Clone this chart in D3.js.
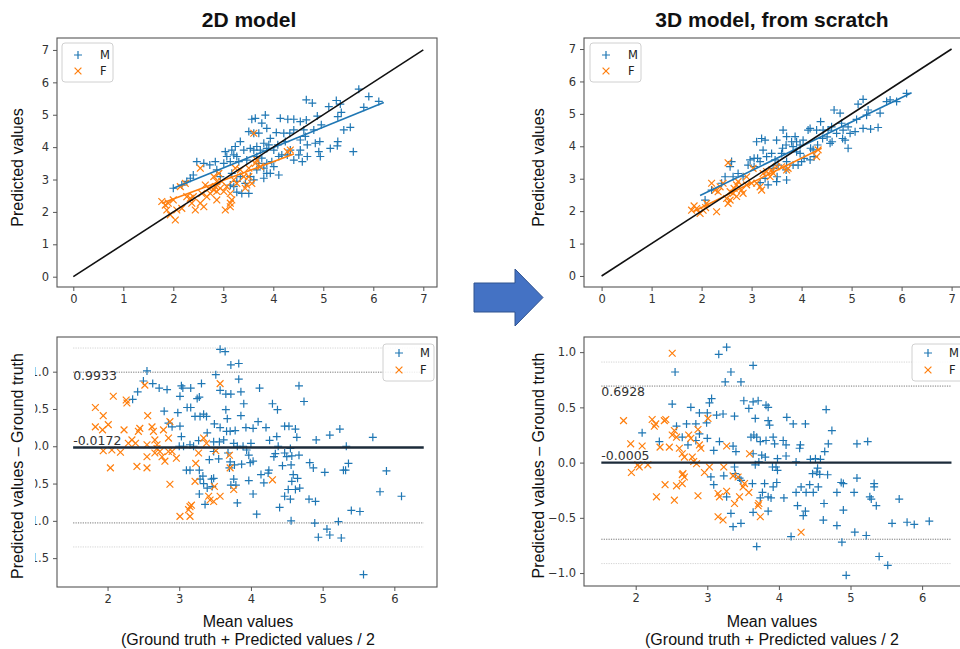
<!DOCTYPE html>
<html>
<head>
<meta charset="utf-8">
<script src="https://cdn.jsdelivr.net/npm/d3@7"></script>
<style>
  html, body { margin: 0; padding: 0; background: #fff; }
  svg { display: block; }
</style>
</head>
<body>
<svg id="chart" width="960" height="649"></svg>
<script>
// ---- Predicted vs ground truth, 2D model: [ground truth, predicted] ----
const scatter2dM = [
  [4.66,5.46],[4.78,5.36],[5.26,5.44],[5.71,5.79],[5.91,5.56],[6.11,5.41],[5.81,5.23],[5.11,5.25],
  [5.34,5.33],[5.36,5.07],[5.29,4.94],[4.88,4.96],[4.96,4.69],[5.41,4.53],[5.54,4.61],[5.60,3.86],
  [5.28,4.04],[5.29,4.17],[5.14,3.96],[4.94,3.71],[4.84,4.12],[4.93,4.17],[4.91,3.86],[4.81,4.53],
  [4.66,4.84],[4.54,4.79],[4.41,4.86],[4.29,4.86],[4.14,4.89],[4.41,4.53],[4.33,4.43],[4.61,4.53],
  [4.54,4.22],[4.64,4.33],[4.68,4.07],[4.54,3.91],[4.58,3.55],[4.41,3.60],[4.51,3.76],[4.21,4.43],
  [4.06,4.45],[4.24,4.17],[4.09,4.07],[4.01,3.91],[4.11,3.71],[4.17,3.76],[4.11,3.14],[4.01,3.40],
  [3.84,4.99],[3.77,4.74],[3.87,4.58],[3.64,4.89],[3.57,4.86],[3.51,4.48],[3.61,4.43],[3.71,4.43],
  [3.94,4.27],[3.91,4.07],[3.81,4.12],[3.87,3.96],[3.74,3.91],[3.67,4.02],[3.61,3.91],[3.67,3.71],
  [3.77,3.66],[3.54,3.96],[3.34,4.17],[3.41,3.91],[3.24,4.02],[3.17,3.91],[3.04,3.86],[3.07,3.71],
  [3.21,3.76],[3.14,3.55],[3.27,3.71],[3.47,3.60],[3.31,3.55],[3.01,3.50],[2.84,3.55],[2.73,3.45],
  [2.61,3.50],[2.47,3.55],[2.40,3.14],[2.34,3.04],[2.87,3.30],[2.94,3.09],[3.17,3.19],[3.34,3.09],
  [3.27,2.94],[3.44,2.88],[3.21,2.78],[3.14,2.83],[3.27,2.61],[3.37,2.57],[3.51,2.57],[3.54,3.09],
  [3.61,2.99],[3.67,3.30],[3.81,3.04],[3.87,3.19],[3.94,3.19],[3.97,3.55],[3.87,3.50],[3.81,3.35],
  [3.71,3.50],[4.28,3.76],[4.68,3.71],[4.34,3.91],[2.00,2.73],[2.17,2.83],[2.27,2.94]
];
const scatter2dF = [
  [1.77,2.32],[1.84,2.21],[1.87,2.06],[1.90,2.27],[2.00,2.37],[1.94,1.91],[2.04,1.75],[2.07,2.06],
  [2.17,2.11],[2.14,2.78],[2.24,2.88],[2.27,2.47],[2.34,2.42],[2.40,2.47],[2.44,2.06],[2.54,3.35],
  [2.57,2.57],[2.54,2.27],[2.61,2.16],[2.64,2.83],[2.71,2.73],[2.74,2.57],[2.81,2.68],[2.84,2.78],
  [2.87,2.63],[2.87,2.37],[2.94,2.73],[2.97,2.94],[2.91,3.19],[2.81,3.09],[3.01,2.63],[3.07,2.78],
  [3.04,2.06],[3.14,2.27],[3.17,2.37],[3.14,2.16],[3.21,2.99],[3.24,3.35],[3.34,3.30],[3.41,3.09],
  [3.47,2.83],[3.44,2.73],[3.51,3.09],[3.57,2.88],[3.61,4.43],[3.64,3.50],[3.67,3.60],[3.74,3.40],
  [4.28,3.86],[4.34,3.91],[3.51,3.35],[3.27,2.88],[2.87,2.94],[3.14,2.57],[2.37,2.27],[2.67,2.47]
];
const fit2dM = [[2.00,2.73],[6.21,5.38]];
const fit2dF = [[1.77,2.27],[4.41,3.79]];

// ---- Predicted vs ground truth, 3D model from scratch ----
const scatter3dM = [
  [6.10,5.63],[5.90,5.38],[5.77,5.43],[5.70,5.38],[5.23,5.45],[5.13,5.30],[5.33,5.12],[5.57,5.02],
  [5.30,4.96],[5.10,4.83],[5.23,4.55],[5.38,4.53],[5.53,4.58],[5.07,4.45],[4.93,4.60],[4.93,3.94],
  [4.80,4.71],[4.77,5.02],[4.65,5.12],[4.60,4.60],[4.53,4.50],[4.82,4.24],[4.87,4.19],[4.61,4.14],
  [4.51,4.29],[4.43,4.50],[4.38,4.76],[4.30,4.50],[4.42,4.24],[4.32,4.04],[4.25,3.68],[4.18,3.94],
  [4.17,4.55],[4.13,4.50],[4.03,4.19],[3.97,4.04],[3.90,4.14],[3.87,4.30],[3.83,3.99],[3.97,3.78],
  [3.90,3.83],[3.80,4.14],[3.70,4.30],[3.63,4.50],[3.69,4.04],[3.62,3.94],[3.60,3.78],[3.50,4.19],
  [3.40,3.78],[3.47,3.58],[3.27,4.19],[3.20,4.24],[3.10,4.14],[3.23,3.88],[3.12,3.63],[3.05,3.63],
  [3.17,3.53],[3.30,3.68],[2.97,3.58],[2.93,3.42],[3.05,3.37],[2.83,3.06],[2.73,3.16],[2.57,3.37],
  [2.60,3.53],[2.63,3.06],[2.47,3.06],[2.40,2.86],[2.20,2.65],[2.07,2.34],[3.17,2.88],[3.27,3.01],
  [3.33,2.81],[3.50,2.91],[3.51,3.06],[3.70,2.96],[3.69,3.27],[3.83,3.42],[3.53,3.42],[3.43,3.32],
  [3.70,3.53],[4.05,3.63],[3.93,3.42],[4.00,3.53],[4.17,3.58],[4.23,3.89],[4.57,4.09],[4.70,4.40],
  [4.83,4.50],[4.97,4.40]
];
const scatter3dF = [
  [1.85,2.16],[1.80,2.03],[1.90,2.08],[1.97,1.93],[2.03,2.03],[2.08,2.11],[2.10,2.24],[2.30,1.98],
  [2.20,2.86],[2.27,2.65],[2.33,2.60],[2.43,2.86],[2.53,3.49],[2.50,2.39],[2.57,2.34],[2.53,2.24],
  [2.63,2.55],[2.65,2.70],[2.70,2.45],[2.73,2.91],[2.80,2.65],[2.83,2.55],[2.90,2.81],[3.00,2.86],
  [2.90,3.06],[3.03,3.32],[3.10,2.86],[3.17,2.75],[3.20,2.65],[3.23,3.16],[3.30,3.22],[3.37,3.06],
  [3.40,3.27],[3.43,3.17],[3.50,3.37],[3.60,3.37],[3.70,3.27],[3.73,3.32],[4.30,3.68],[4.33,3.89],
  [2.57,2.60],[2.70,2.81],[2.37,2.75]
];
const fit3dM = [[1.97,2.48],[6.20,5.65]];
const fit3dF = [[1.83,1.98],[4.40,3.94]];

// ---- Bland-Altman, 2D model: [mean, difference] ----
const ba2dM = [
  [3.57,1.30],[3.64,1.27],[3.72,1.09],[3.83,1.11],[2.55,1.01],[3.51,0.96],[3.83,0.90],[2.50,0.875],
  [2.63,0.84],[2.72,0.78],[2.83,0.76],[2.42,0.73],[3.03,0.81],[3.05,0.78],[3.16,0.78],[3.31,0.84],
  [3.57,0.75],[3.65,0.70],[3.72,0.70],[3.86,0.73],[4.12,0.78],[4.67,0.81],[2.35,0.63],[3.01,0.67],
  [3.25,0.64],[3.28,0.66],[3.90,0.57],[4.30,0.57],[4.37,0.49],[4.74,0.60],[2.79,0.47],[2.98,0.45],
  [3.11,0.52],[3.16,0.52],[3.22,0.40],[3.29,0.40],[3.34,0.43],[3.38,0.40],[3.65,0.49],[3.67,0.37],
  [3.86,0.41],[3.49,0.30],[3.57,0.25],[3.66,0.20],[3.71,0.20],[3.78,0.21],[3.93,0.25],[4.03,0.24],
  [4.10,0.33],[4.21,0.25],[4.47,0.27],[4.53,0.27],[4.62,0.23],[4.64,0.12],[4.36,0.13],[4.26,0.08],
  [4.38,0.00],[2.85,0.31],[2.90,0.26],[3.01,0.27],[3.03,0.13],[3.00,0.00],[3.06,0.00],[3.15,0.02],
  [3.20,0.00],[3.27,0.076],[3.39,0.18],[3.48,0.06],[3.56,0.06],[3.62,0.085],[3.76,0.04],[3.81,0.00],
  [3.89,0.00],[3.94,-0.05],[4.00,0.04],[3.97,-0.12],[4.03,-0.20],[3.99,-0.22],[3.87,-0.24],[3.77,-0.25],
  [3.71,-0.21],[3.70,-0.29],[3.76,-0.44],[3.79,-0.52],[3.72,-0.52],[3.97,-0.46],[3.81,-0.76],[4.08,-0.91],
  [4.03,-0.64],[4.14,-0.38],[4.18,-0.49],[4.24,-0.36],[4.25,-0.32],[4.32,-0.14],[4.34,-0.10],[4.44,-0.26],
  [4.47,-0.09],[4.50,-0.14],[4.55,-0.03],[4.57,-0.13],[4.56,-0.25],[4.67,-0.12],[4.59,-0.38],[4.57,-0.47],
  [4.65,-0.43],[4.52,-0.58],[4.47,-0.67],[4.55,-0.71],[4.40,-0.82],[4.62,-0.58],[4.68,-0.56],[4.82,-0.22],
  [4.87,-0.29],[5.03,-0.35],[4.91,0.085],[5.10,0.15],[5.24,0.23],[5.33,0.00],[5.36,-0.23],[5.29,-0.32],
  [5.32,-0.32],[5.70,0.12],[5.89,-0.33],[5.80,-0.61],[6.10,-0.67],[4.81,-0.71],[4.90,-0.74],[4.56,-1.00],
  [4.89,-1.03],[4.94,-1.22],[5.06,-1.11],[5.10,-1.19],[5.22,-1.01],[5.26,-1.23],[5.40,-0.86],[5.52,-0.875],
  [5.57,-1.72],[3.15,-0.32],[3.10,-0.32],[3.28,-0.32],[3.33,-0.40],[3.28,-0.64],[3.36,-0.78],[3.48,-0.43],
  [3.45,-0.44],[3.39,-0.56],[3.34,-0.50],[3.29,-0.44],[3.42,-0.18],[3.48,-0.07],[3.55,-0.17],[3.68,-0.09],
  [3.46,-0.54]
];
const ba2dF = [
  [1.83,0.52],[1.94,0.41],[1.83,0.26],[1.93,0.22],[2.01,0.29],[1.94,-0.06],[2.06,-0.05],[2.18,-0.08],
  [2.04,-0.29],[2.08,0.67],[2.26,0.62],[2.27,0.58],[2.23,0.22],[2.29,0.04],[2.34,0.085],[2.39,0.04],
  [2.41,-0.27],[2.43,0.20],[2.45,0.24],[2.52,0.82],[2.56,0.41],[2.55,0.02],[2.55,-0.14],[2.55,-0.29],
  [2.62,0.26],[2.64,0.20],[2.66,0.085],[2.69,0.02],[2.69,-0.03],[2.66,-0.09],[2.73,-0.07],[2.76,-0.14],
  [2.80,-0.20],[2.85,-0.07],[2.78,0.22],[2.85,0.11],[2.87,0.33],[2.90,-0.07],[2.87,-0.51],[2.96,-0.16],
  [3.01,-0.94],[3.13,-0.85],[3.15,-0.81],[3.17,-0.79],[3.15,-0.94],[3.22,-0.47],[3.23,-0.23],[3.27,-0.09],
  [3.34,0.11],[3.38,0.04],[3.41,-0.67],[3.43,-0.72],[3.48,-0.74],[3.49,-0.54],[3.57,-0.67],[3.51,-0.06],
  [3.57,0.84],[3.70,-0.12],[3.71,-0.29],[3.76,-0.58],[4.30,-0.45]
];
const ba2dStats = { mean: -0.0172, upper: 0.9933, lower: -1.0277, outerUpper: 1.317, outerLower: -1.35 };

// ---- Bland-Altman, 3D model from scratch ----
const ba3dM = [
  [3.27,1.045],[3.16,0.98],[3.33,0.82],[3.64,0.88],[2.55,0.82],[3.25,0.73],[3.47,0.73],[2.51,0.53],
  [3.06,0.58],[3.03,0.54],[3.51,0.56],[3.58,0.49],[3.64,0.55],[3.71,0.56],[3.82,0.52],[3.85,0.50],
  [2.77,0.50],[2.89,0.45],[3.00,0.45],[2.99,0.36],[3.13,0.43],[3.22,0.44],[3.38,0.42],[3.67,0.40],
  [3.85,0.38],[3.87,0.34],[4.11,0.41],[4.20,0.35],[4.37,0.35],[4.66,0.48],[4.74,0.29],[4.69,0.17],
  [5.09,0.17],[5.24,0.19],[2.09,0.27],[2.33,0.19],[2.57,0.33],[2.65,0.23],[2.71,0.35],[2.84,0.35],
  [2.89,0.26],[2.84,0.20],[2.73,0.16],[3.00,0.22],[3.17,0.19],[3.09,0.11],[3.36,0.15],[3.40,0.10],
  [3.61,0.23],[3.65,0.25],[3.69,0.23],[3.74,0.19],[3.82,0.20],[3.92,0.23],[3.94,0.17],[4.06,0.20],
  [4.10,0.16],[4.30,0.16],[4.29,0.13],[3.76,0.067],[3.81,0.05],[3.72,0.006],[3.67,-0.02],[3.64,0.08],
  [3.98,0.036],[4.10,0.06],[4.24,0.006],[4.44,0.03],[4.51,0.036],[4.58,0.03],[4.64,0.10],[4.47,-0.10],
  [4.53,-0.085],[4.54,-0.05],[4.57,-0.106],[4.68,-0.11],[3.96,-0.04],[3.91,-0.04],[3.98,-0.07],[3.97,-0.18],
  [3.92,-0.22],[3.80,-0.19],[3.77,-0.27],[3.85,-0.31],[3.89,-0.32],[3.74,-0.32],[3.63,-0.19],[3.38,-0.04],
  [3.39,-0.10],[3.05,-0.13],[3.09,-0.20],[3.23,-0.12],[3.27,-0.31],[3.45,-0.14],[3.47,-0.16],[3.33,-0.46],
  [3.36,-0.58],[3.47,-0.55],[3.64,-0.45],[3.85,-0.44],[3.69,-0.76],[4.07,-0.32],[4.24,-0.27],[4.31,-0.22],
  [4.38,-0.27],[4.43,-0.20],[4.48,-0.27],[4.55,-0.22],[4.26,-0.39],[4.34,-0.48],[4.37,-0.44],[4.17,-0.67],
  [4.63,-0.37],[4.62,-0.52],[4.81,-0.27],[4.87,-0.18],[4.90,-0.19],[4.90,-0.43],[4.81,-0.57],[4.88,-0.72],
  [4.94,-1.02],[5.05,-0.27],[5.09,-0.14],[5.06,-0.63],[5.22,-0.66],[5.27,-0.31],[5.29,-0.33],[5.33,-0.19],
  [5.33,-0.22],[5.36,-0.39],[5.40,-0.85],[5.52,-0.93],[5.68,-0.33],[5.58,-0.55],[5.79,-0.54],[5.89,-0.56],
  [6.10,-0.53]
];
const ba3dF = [
  [2.51,0.99],[1.83,0.38],[1.93,0.17],[2.09,0.15],[1.94,-0.09],[2.03,-0.02],[2.05,-0.04],[2.17,-0.02],
  [2.23,0.39],[2.26,0.33],[2.28,0.35],[2.34,0.14],[2.40,0.38],[2.42,0.39],[2.47,0.14],[2.51,0.25],
  [2.54,0.29],[2.57,0.23],[2.41,-0.20],[2.29,-0.31],[2.54,-0.34],[2.57,-0.21],[2.61,0.13],[2.65,0.08],
  [2.68,0.05],[2.66,-0.10],[2.65,-0.11],[2.65,-0.19],[2.68,-0.13],[2.74,0.25],[2.77,0.22],[2.79,0.05],
  [2.81,0.01],[2.85,-0.01],[2.89,0.16],[2.91,0.13],[2.87,0.30],[2.87,-0.30],[2.96,-0.09],[3.01,0.40],
  [3.03,-0.04],[3.15,-0.28],[3.17,-0.31],[3.15,-0.49],[3.22,-0.52],[3.27,0.15],[3.23,-0.04],[3.27,-0.26],
  [3.36,-0.12],[3.43,-0.13],[3.38,-0.37],[3.45,-0.31],[3.50,-0.22],[3.52,-0.19],[3.58,-0.27],[3.59,0.08],
  [3.72,-0.37],[3.74,-0.49],[3.71,-0.39],[4.31,-0.63]
];
const ba3dStats = { mean: -0.0005, upper: 0.6928, lower: -0.6938, outerUpper: 0.91, outerLower: -0.914 };

// ---- Axis ticks and labels ----
const scatterTicks = [0, 1, 2, 3, 4, 5, 6, 7];
const baXTicks = [2, 3, 4, 5, 6];
const ba2dYTicks = [1.0, 0.5, 0.0, -0.5, -1.0, -1.5];
const ba3dYTicks = [1.0, 0.5, 0.0, -0.5, -1.0];
const seriesNames = ["M", "F"];
const panelTitles = ["2D model", "3D model, from scratch"];

const BLUE = "#1f77b4", ORANGE = "#ff7f0e";
const svg = d3.select("#chart");
const tickFont = "'DejaVu Sans', sans-serif";
const labelFont = "'Liberation Sans', Arial, sans-serif";

function plusPath(s) { return `M${-s},0H${s}M0,${-s}V${s}`; }
function crossPath(s) { return `M${-s},${-s}L${s},${s}M${-s},${s}L${s},${-s}`; }

function drawMarkers(g, data, x, y, kind) {
  const s = kind === "plus" ? 4 : 3.4;
  g.append("g").selectAll("path").data(data).join("path")
    .attr("transform", d => `translate(${x(d[0])},${y(d[1])})`)
    .attr("d", kind === "plus" ? plusPath(s) : crossPath(s))
    .attr("fill", "none")
    .attr("stroke", kind === "plus" ? BLUE : ORANGE)
    .attr("stroke-width", 1.2);
}

function styleAxis(g) {
  g.select(".domain").remove();
  g.selectAll(".tick line").attr("stroke", "#444").attr("stroke-width", 0.9);
  g.selectAll(".tick text").attr("fill", "#333").style("font-family", tickFont).style("font-size", "11.5px");
}

function drawFrame(g, box) {
  g.append("rect")
    .attr("x", box.x0).attr("y", box.y0)
    .attr("width", box.x1 - box.x0).attr("height", box.y1 - box.y0)
    .attr("fill", "none").attr("stroke", "#555").attr("stroke-width", 1.1);
}

function drawLegend(g, lx, ly, w, h, mx, tx, my) {
  g.append("rect").attr("x", lx).attr("y", ly).attr("width", w).attr("height", h)
    .attr("rx", 3).attr("fill", "#fff").attr("fill-opacity", 0.85)
    .attr("stroke", "#d0d0d0").attr("stroke-width", 1);
  seriesNames.forEach((name, i) => {
    const kind = i === 0 ? "plus" : "cross";
    g.append("path")
      .attr("transform", `translate(${mx},${my[i]})`)
      .attr("d", kind === "plus" ? plusPath(4) : crossPath(3.4))
      .attr("fill", "none").attr("stroke", i === 0 ? BLUE : ORANGE).attr("stroke-width", 1.2);
    g.append("text").attr("x", tx).attr("y", my[i] + 4)
      .attr("fill", "#222").style("font-family", tickFont).style("font-size", "11.5px")
      .text(name);
  });
}

// ---- Scatter panel: predicted vs ground truth ----
function scatterPanel(box, xDom, yDom, ptsM, ptsF, fitM, fitF, legendPos, labelX) {
  const g = svg.append("g");
  const x = d3.scaleLinear().domain(xDom).range([box.x0, box.x1]);
  const y = d3.scaleLinear().domain(yDom).range([box.y1, box.y0]);

  const gx = g.append("g").attr("transform", `translate(0,${box.y1})`)
    .call(d3.axisBottom(x).tickValues(scatterTicks).tickFormat(d3.format("d")).tickSizeOuter(0).tickSize(4).tickPadding(4));
  styleAxis(gx);
  const gy = g.append("g").attr("transform", `translate(${box.x0},0)`)
    .call(d3.axisLeft(y).tickValues(scatterTicks).tickFormat(d3.format("d")).tickSizeOuter(0).tickSize(4).tickPadding(4));
  styleAxis(gy);

  const line = d3.line().x(d => x(d[0])).y(d => y(d[1]));
  drawMarkers(g, ptsM, x, y, "plus");
  drawMarkers(g, ptsF, x, y, "cross");
  g.append("path").datum(fitM).attr("d", line).attr("stroke", BLUE).attr("stroke-width", 1.6).attr("fill", "none");
  g.append("path").datum(fitF).attr("d", line).attr("stroke", ORANGE).attr("stroke-width", 1.6).attr("fill", "none");
  g.append("path").datum([[0, 0], [7, 7]]).attr("d", line).attr("stroke", "#111").attr("stroke-width", 1.6).attr("fill", "none");

  drawFrame(g, box);
  drawLegend(g, legendPos[0], legendPos[1], 51, 39, legendPos[0] + 16, legendPos[0] + 38, [legendPos[1] + 12, legendPos[1] + 28]);

  g.append("text")
    .attr("transform", `translate(${labelX},${(box.y0 + box.y1) / 2 + 5}) rotate(-90)`)
    .attr("text-anchor", "middle").attr("fill", "#111")
    .style("font-family", labelFont).style("font-size", "16px")
    .text("Predicted values");
}

// ---- Bland-Altman panel: difference vs mean ----
function baPanel(box, xDom, yDom, yTicks, ptsM, ptsF, stats, legendPos, labelX, centerX, maskLabels) {
  const g = svg.append("g");
  const x = d3.scaleLinear().domain(xDom).range([box.x0, box.x1]);
  const y = d3.scaleLinear().domain(yDom).range([box.y1, box.y0]);

  const gx = g.append("g").attr("transform", `translate(0,${box.y1})`)
    .call(d3.axisBottom(x).tickValues(baXTicks).tickFormat(d3.format("d")).tickSizeOuter(0).tickSize(4).tickPadding(4));
  styleAxis(gx);
  const gy = g.append("g").attr("transform", `translate(${box.x0},0)`)
    .call(d3.axisLeft(y).tickValues(yTicks).tickFormat(d3.format(".1f")).tickSizeOuter(0).tickSize(4).tickPadding(4));
  styleAxis(gy);

  const x0 = 1.52, x1 = 6.41;
  const hline = v => d3.line().x(d => x(d[0])).y(d => y(d[1]))([[x0, v], [x1, v]]);
  g.append("path").attr("d", hline(stats.outerUpper)).attr("stroke", "#c8c8c8").attr("stroke-width", 0.8).attr("stroke-dasharray", "1.2,1.2").attr("fill", "none");
  g.append("path").attr("d", hline(stats.outerLower)).attr("stroke", "#c8c8c8").attr("stroke-width", 0.8).attr("stroke-dasharray", "1.2,1.2").attr("fill", "none");
  g.append("path").attr("d", hline(stats.upper)).attr("stroke", "#666").attr("stroke-width", 0.9).attr("stroke-dasharray", "1.2,1.2").attr("fill", "none");
  g.append("path").attr("d", hline(stats.lower)).attr("stroke", "#666").attr("stroke-width", 0.9).attr("stroke-dasharray", "1.2,1.2").attr("fill", "none");

  drawMarkers(g, ptsM, x, y, "plus");
  drawMarkers(g, ptsF, x, y, "cross");

  g.append("path").attr("d", hline(stats.mean)).attr("stroke", "#1c2b3a").attr("stroke-width", 2.4).attr("fill", "none");

  const annot = (v, dy) => g.append("text")
    .attr("x", x(x0)).attr("y", y(v) + dy).attr("fill", "#333")
    .style("font-family", tickFont).style("font-size", "12.5px")
    .text(v.toFixed(4));
  annot(stats.upper, maskLabels ? 8 : 10);
  annot(stats.mean, -3);

  drawFrame(g, box);
  drawLegend(g, legendPos[0], legendPos[1], 51, 37, legendPos[0] + 16, legendPos[0] + 37, [legendPos[1] + 9, legendPos[1] + 26]);

  if (maskLabels) {
    g.append("rect").attr("x", 0).attr("y", 338).attr("width", 35).attr("height", 226).attr("fill", "#fff");
  }
  g.append("text")
    .attr("transform", `translate(${labelX},${(box.y0 + box.y1) / 2 + 4}) rotate(-90)`)
    .attr("text-anchor", "middle").attr("fill", "#111")
    .style("font-family", labelFont).style("font-size", "16px")
    .text("Predicted values \u2013 Ground truth");

  g.append("text").attr("x", centerX).attr("y", 627).attr("text-anchor", "middle").attr("fill", "#111")
    .style("font-family", labelFont).style("font-size", "16px").text("Mean values");
  g.append("text").attr("x", centerX).attr("y", 645).attr("text-anchor", "middle").attr("fill", "#111")
    .style("font-family", labelFont).style("font-size", "16px").text("(Ground truth + Predicted values / 2");
}

// Titles
[[249, panelTitles[0]], [772, panelTitles[1]]].forEach(([cx, t]) => {
  svg.append("text").attr("x", cx).attr("y", 27).attr("text-anchor", "middle")
    .attr("fill", "#111").style("font-family", labelFont).style("font-weight", "bold").style("font-size", "21px")
    .text(t);
});

scatterPanel({ x0: 57, y0: 38, x1: 437, y1: 287 }, [-0.326, 7.274], [-0.318, 7.369],
  scatter2dM, scatter2dF, fit2dM, fit2dF, [62, 43], 23);
scatterPanel({ x0: 584, y0: 38, x1: 964, y1: 287 }, [-0.352, 7.248], [-0.34, 7.34],
  scatter3dM, scatter3dF, fit3dM, fit3dF, [590, 43], 544);

baPanel({ x0: 57, y0: 337, x1: 437, y1: 587 }, [1.295, 6.595], [-1.887, 1.465], ba2dYTicks,
  ba2dM, ba2dF, ba2dStats, [383, 344], 23, 248, true);
baPanel({ x0: 584, y0: 337, x1: 964, y1: 586 }, [1.278, 6.585], [-1.117, 1.137], ba3dYTicks,
  ba3dM, ba3dF, ba3dStats, [912, 344], 544, 772, false);

// Block arrow between the two columns
svg.append("path")
  .attr("d", "M474,283 L515,283 L515,269 L543,297.5 L515,326 L515,312 L474,312 Z")
  .attr("fill", "#4472c4").attr("stroke", "#2f528f").attr("stroke-width", 1);
</script>
</body>
</html>
